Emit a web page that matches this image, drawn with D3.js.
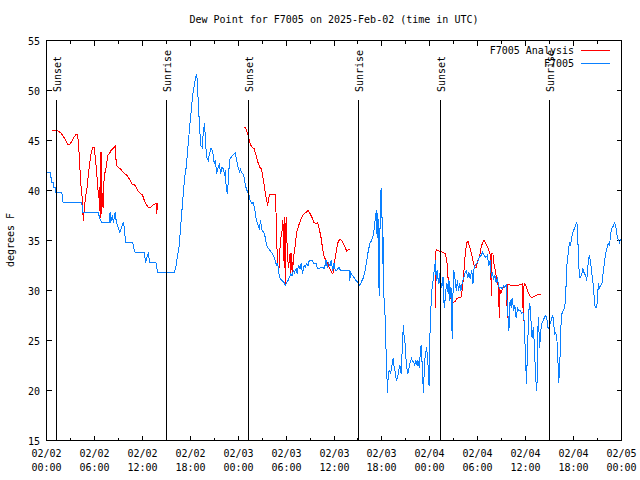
<!DOCTYPE html>
<html>
<head>
<meta charset="utf-8">
<script src="https://cdn.jsdelivr.net/npm/d3@7"></script>
<style>
  html, body { margin: 0; padding: 0; background: #fff; }
  svg { display: block; }
  text { font-family: "DejaVu Sans Mono", "Liberation Mono", monospace; font-size: 10px; fill: #000; }
</style>
</head>
<body>
<svg id="chart" width="640" height="480"></svg>
<script>
// ---- data (hours after 2025-02-02 00:00 UTC, dew point in °F) ----
const titleText = "Dew Point for F7005 on 2025-Feb-02 (time in UTC)";
const yLabel = "degrees F";
const yTicks = [15, 20, 25, 30, 35, 40, 45, 50, 55];
const seriesNames = ["F7005 Analysis", "F7005"];
const seriesColors = ["#ff0000", "#0a80ff"];

const sunLabels = ["Sunset", "Sunrise", "Sunset", "Sunrise", "Sunset", "Sunrise"];
const sunHours  = [1.3, 15.05, 25.3, 39.05, 49.3, 62.95];

// F7005 observations [hour, value]
const obsSeries = [
 [0,41.8],[0.5,41.8],[0.5,41.3],[0.67,41.3],[0.67,40.8],[0.92,40.8],[0.92,40.3],[1.08,40.3],[1.08,39.8],
 [1.92,39.8],[2.0,39.3],[2.08,38.8],[4.42,38.8],[4.54,37.8],[6.54,37.8],[6.6,37.3],[6.9,36.8],[7.9,36.8],
 [7.96,37.8],[8.04,36.8],[8.25,37.5],[8.38,36.8],[8.6,37.8],[8.75,36.8],[8.96,36.3],[9.2,35.8],[9.4,36.3],
 [9.6,36.8],[9.75,36.3],[9.9,34.8],[10.8,34.8],[10.9,34.3],[11.1,33.8],[12.25,33.8],[12.4,32.8],[12.75,33.8],
 [12.9,32.8],[13.7,32.8],[13.9,31.8],[16.0,31.8],[16.2,32.4],[16.4,33.4],[16.6,34.4],[16.8,36.4],[17.0,38.4],
 [17.2,40.4],[17.4,42.0],[17.5,42.3],[17.71,44.3],[17.92,46.3],[18.12,48.0],[18.33,49.7],[18.54,50.7],
 [18.75,51.6],[18.9,51.0],[19.0,48.7],[19.15,46.7],[19.3,44.5],[19.5,44.3],[19.65,46.0],[19.8,46.7],
 [19.9,45.0],[20.05,43.3],[20.25,43.0],[20.4,43.7],[20.6,44.2],[20.8,44.0],[21.0,42.7],[21.15,43.0],
 [21.3,41.7],[21.5,42.3],[21.65,42.7],[21.8,41.7],[21.96,42.3],[22.15,42.2],[22.3,41.5],[22.4,42.0],
 [22.5,40.3],[22.65,39.7],[22.8,41.3],[22.9,43.0],[23.1,43.3],[23.3,43.5],[23.5,43.7],[23.65,43.8],
 [23.75,43.3],[23.9,42.7],[24.0,42.3],[24.2,41.8],[24.3,42.2],[24.4,41.8],[24.6,41.7],[24.75,41.3],
 [24.9,40.5],[25.1,40.0],[25.3,39.7],[25.5,39.0],[25.7,38.7],[25.9,38.8],[26.1,38.0],[26.25,37.2],
 [26.4,36.7],[26.65,36.2],[26.8,37.0],[27.0,36.0],[27.2,35.8],[27.4,35.3],[27.5,34.8],[27.65,34.3],
 [27.8,34.2],[28.0,34.0],[28.15,33.8],[28.3,33.7],[28.5,33.3],[28.65,33.0],[28.8,32.5],[28.95,32.7],
 [29.1,31.7],[29.25,31.2],[29.5,31.0],[29.75,30.8],[29.9,30.5],[30.05,30.8],[30.25,31.0],[30.4,31.3],
 [30.6,31.7],[30.75,31.5],[30.9,32.0],[31.05,31.8],[31.25,32.2],[31.4,31.7],[31.55,32.5],[31.75,32.2],
 [31.9,32.7],[32.05,31.7],[32.25,32.5],[32.4,32.3],[32.55,32.7],[32.75,32.5],[32.9,33.0],[33.3,33.0],
 [33.45,32.7],[33.75,32.7],[33.9,32.3],[34.0,32.2],[34.6,32.3],[34.8,32.2],[35.0,33.0],[35.15,32.3],
 [35.3,32.8],[35.5,32.5],[35.65,33.0],[35.85,32.0],[36.0,32.7],[36.15,32.0],[36.3,32.0],[36.5,32.2],
 [36.65,32.3],[36.8,32.0],[37.9,32.0],[37.95,31.0],[38.1,31.8],[38.3,31.5],[38.5,31.3],[38.75,31.0],
 [39.0,30.8],[39.25,30.5],[39.5,31.0],[39.7,31.3],[39.9,32.0],[40.1,33.0],[40.3,34.0],[40.5,34.7],
 [40.7,35.0],[40.9,35.5],[41.0,36.0],[41.15,37.0],[41.3,38.0],[41.4,35.3],[41.5,37.7],[41.65,29.5],
 [41.75,35.3],[41.8,38.7],[41.9,40.2],[42.0,38.0],[42.1,32.7],[42.15,35.3],[42.25,29.3],[42.35,28.7],
 [42.45,25.7],[42.6,22.0],[42.7,19.8],[42.8,21.7],[42.9,22.0],[43.1,21.7],[43.2,22.3],[43.3,22.7],
 [43.4,23.2],[43.5,22.5],[43.7,21.7],[43.8,21.0],[43.97,21.3],[44.1,22.0],[44.25,22.5],[44.4,21.7],
 [44.5,23.3],[44.6,25.3],[44.7,26.5],[44.75,25.7],[44.9,24.7],[45.0,23.3],[45.1,22.3],[45.25,21.7],
 [45.4,22.3],[45.5,22.7],[45.7,23.2],[45.8,23.0],[46.0,22.8],[46.1,22.5],[46.25,23.0],[46.4,22.5],
 [46.5,23.0],[46.7,22.3],[46.8,23.8],[46.9,24.5],[47.0,23.3],[47.1,21.3],[47.2,19.8],[47.3,22.0],
 [47.4,23.3],[47.5,23.8],[47.6,24.3],[47.7,23.3],[47.8,22.3],[47.85,21.3],[47.9,20.5],[48.0,25.3],
 [48.1,27.3],[48.2,29.7],[48.3,30.3],[48.4,31.0],[48.5,31.7],[48.6,32.3],[48.7,33.0],[48.8,31.0],
 [48.9,32.0],[49.0,31.3],[49.15,30.7],[49.3,32.0],[49.4,30.7],[49.5,30.3],[49.65,31.3],[49.8,28.3],
 [49.9,29.0],[50.0,30.0],[50.15,30.7],[50.3,29.7],[50.4,31.0],[50.5,29.0],[50.65,30.3],[50.8,25.2],
 [50.9,29.7],[51.0,32.0],[51.1,31.3],[51.2,31.0],[51.3,30.0],[51.45,31.0],[51.6,30.0],[51.75,30.7],
 [51.9,30.0],[52.05,30.7],[52.25,31.3],[52.4,31.7],[52.55,32.0],[52.75,31.3],[52.9,31.8],[53.05,31.2],
 [53.25,32.0],[53.4,30.7],[53.55,32.3],[53.75,32.6],[53.95,32.8],[54.2,33.3],[54.4,33.5],[54.6,33.8],
 [54.8,33.5],[55.0,33.3],[55.2,33.5],[55.4,32.5],[55.55,33.0],[55.7,31.3],[55.8,31.8],[56.0,31.2],
 [56.15,31.5],[56.3,30.8],[56.45,31.3],[56.6,30.5],[56.75,30.2],[56.9,30.3],[57.05,30.2],[57.25,30.5],
 [57.4,30.3],[57.55,30.5],[57.75,28.0],[57.9,26.0],[58.05,29.0],[58.2,28.3],[58.3,29.2],[58.5,28.0],
 [58.65,28.5],[58.8,27.3],[59.0,28.2],[59.15,28.0],[59.3,28.0],[59.5,27.7],[59.65,27.8],[59.8,27.0],
 [59.9,25.0],[60.0,23.0],[60.1,20.7],[60.2,23.3],[60.3,25.7],[60.45,28.7],[60.6,28.3],[60.7,26.3],
 [60.8,25.3],[60.97,26.3],[61.1,24.3],[61.2,22.3],[61.3,20.8],[61.4,20.0],[61.45,21.8],[61.5,25.7],
 [61.6,27.3],[61.75,24.3],[61.9,26.0],[62.0,26.7],[62.2,27.0],[62.35,27.3],[62.5,27.5],[62.65,27.2],
 [62.8,26.2],[62.9,26.3],[63.05,26.7],[63.2,27.0],[63.3,27.3],[63.4,27.5],[63.5,26.7],[63.65,25.7],
 [63.75,25.8],[63.9,25.3],[64.0,23.7],[64.15,20.8],[64.3,23.3],[64.4,26.3],[64.55,27.7],[64.7,28.0],
 [64.85,28.2],[65.0,29.0],[65.05,30.3],[65.1,32.0],[65.25,33.2],[65.4,34.3],[65.5,34.8],[65.6,34.5],
 [65.75,35.2],[65.9,35.8],[66.1,36.2],[66.25,36.5],[66.4,36.8],[66.5,36.2],[66.6,33.3],[66.7,31.8],
 [66.8,31.3],[67.0,31.5],[67.15,32.2],[67.3,31.8],[67.5,31.5],[67.65,31.0],[67.8,32.5],[67.95,33.5],
 [68.1,33.0],[68.2,32.3],[68.35,31.3],[68.5,30.3],[68.6,29.0],[68.7,28.3],[68.9,28.3],[69.0,29.2],
 [69.1,30.7],[69.25,30.3],[69.4,30.5],[69.55,30.7],[69.7,31.8],[69.85,32.7],[70.0,33.7],[70.2,34.3],
 [70.35,34.7],[70.5,34.5],[70.65,35.7],[70.8,36.2],[71.0,36.5],[71.15,36.8],[71.3,36.3],[71.4,35.7],
 [71.55,35.2],[71.75,34.8],[71.9,35.1],[72.0,35.1]
];

// F7005 Analysis, three separate runs [hour, value]
const analysisRun1 = [
 [0.67,46.0],[1.29,46.0],[1.75,45.8],[2.04,45.5],[2.33,45.1],[2.67,44.6],[2.9,44.6],[3.17,44.9],[3.42,45.3],
 [3.67,45.6],[3.9,45.6],[4.04,44.3],[4.2,42.0],[4.33,40.3],[4.5,39.0],[4.6,37.0],[4.75,38.3],[4.88,39.3],
 [5.08,40.3],[5.25,41.7],[5.4,42.7],[5.6,43.8],[5.8,44.3],[6.0,44.3],[6.1,43.3],[6.3,41.7],[6.4,40.3],
 [6.54,39.7],[6.67,38.0],[6.75,43.8],[6.79,37.3],[6.88,43.8],[6.92,37.7],[7.0,39.7],[7.08,38.3],[7.17,40.7],
 [7.3,41.7],[7.46,42.3],[7.67,43.5],[7.88,43.7],[8.08,44.0],[8.3,44.2],[8.5,44.3],[8.6,44.5],[8.75,42.5],
 [9.0,42.3],[9.25,42.2],[9.5,41.9],[9.75,41.7],[10.0,41.6],[10.25,41.3],[10.5,41.0],[10.75,40.6],
 [11.0,40.6],[11.25,40.3],[11.5,39.9],[11.75,39.7],[12.0,39.6],[12.25,39.0],[12.5,38.6],[12.75,38.3],
 [13.0,38.3],[13.25,38.5],[13.5,38.6],[13.75,38.7],[13.8,37.7],[13.9,38.7],[14.0,38.7]
];
const analysisRun2 = [
 [24.7,46.3],[24.9,46.3],[25.1,45.9],[25.25,45.5],[25.4,45.0],[25.6,44.5],[25.8,44.3],[26.0,44.2],
 [26.25,43.5],[26.4,43.0],[26.7,42.3],[26.9,42.2],[27.1,41.3],[27.3,40.3],[27.5,39.3],[27.7,38.5],
 [27.9,39.6],[28.7,39.6],[28.8,35.0],[28.9,33.7],[29.0,32.3],[29.1,32.0],[29.2,33.7],[29.3,35.0],
 [29.5,36.0],[29.6,37.0],[29.7,33.0],[29.75,37.3],[29.8,35.7],[29.9,30.5],[30.0,37.3],[30.1,35.0],
 [30.2,33.3],[30.3,32.3],[30.5,33.7],[30.6,31.7],[30.7,33.7],[30.8,31.7],[30.9,33.0],[31.0,33.7],
 [31.2,34.8],[31.3,35.8],[31.5,36.3],[31.7,36.8],[31.9,37.2],[32.1,37.5],[32.3,37.7],[32.5,37.8],
 [32.75,38.0],[33.0,37.7],[33.25,37.3],[33.5,36.8],[33.75,36.7],[33.96,36.8],[34.2,36.0],[34.4,35.2],
 [34.6,34.0],[34.8,33.3],[35.0,33.0],[35.2,32.7],[35.4,32.3],[35.6,32.0],[35.8,31.7],[35.95,31.8],
 [36.1,33.0],[36.3,34.0],[36.5,34.8],[36.7,35.1],[36.96,35.0],[37.2,34.6],[37.4,34.3],[37.6,33.9],
 [37.7,34.0],[37.8,34.1],[38.0,34.1]
];
const analysisRun3 = [
 [48.7,28.3],[48.7,33.7],[48.8,34.1],[49.25,33.9],[49.7,33.8],[49.9,33.7],[50.1,33.2],[50.25,32.0],
 [50.3,30.7],[50.5,29.7],[50.7,29.0],[50.9,28.8],[51.2,28.9],[51.4,29.2],[51.7,29.3],[51.9,29.3],
 [52.1,30.3],[52.25,31.7],[52.4,33.3],[52.6,34.8],[52.8,34.9],[53.0,34.3],[53.2,33.7],[53.4,33.0],
 [53.6,32.3],[53.8,32.3],[54.0,33.0],[54.2,33.3],[54.4,34.2],[54.6,34.8],[54.8,35.0],[55.0,34.7],
 [55.2,34.4],[55.4,34.0],[55.6,33.5],[55.7,29.5],[55.75,33.7],[55.9,33.7],[56.0,32.8],[56.2,32.0],
 [56.3,31.5],[56.5,30.8],[56.6,30.2],[56.7,27.3],[56.75,30.2],[56.9,29.7],[57.1,30.2],[57.4,30.4],
 [57.6,30.5],[57.7,27.3],[57.75,30.6],[58.3,30.5],[58.95,30.5],[59.4,30.6],[59.6,30.7],[59.7,27.0],
 [59.8,30.7],[59.9,30.7],[60.1,30.3],[60.3,29.8],[60.5,29.5],[60.75,29.3],[61.0,29.4],[61.3,29.5],
 [61.6,29.6],[61.9,29.6]
];

// ---- drawing ----
const svg = d3.select("#chart");
const t0 = Date.UTC(2025, 1, 2, 0, 0);
const toDate = h => new Date(t0 + h * 3600 * 1000);

const L = 46.5, R = 621.5, T = 40.5, B = 440.5;
const x = d3.scaleUtc().domain([toDate(0), toDate(72)]).range([L, R]);
const y = d3.scaleLinear().domain([15, 55]).range([B, T]);

// title
svg.append("text").attr("x", (L + R) / 2).attr("y", 23).attr("text-anchor", "middle").text(titleText);

// y label
svg.append("text").attr("transform", "translate(14,240) rotate(-90)").attr("text-anchor", "middle").text(yLabel);

const g = svg.append("g").attr("shape-rendering", "crispEdges");

// y ticks (left + mirrored right)
yTicks.forEach(v => {
  g.append("line").attr("x1", L).attr("x2", L + 5).attr("y1", y(v)).attr("y2", y(v)).attr("stroke", "#000");
  g.append("line").attr("x1", R).attr("x2", R - 5).attr("y1", y(v)).attr("y2", y(v)).attr("stroke", "#000");
  svg.append("text").attr("x", 40).attr("y", y(v) + 4).attr("text-anchor", "end").text(v);
});

// x ticks every 3 hours, labels every 6
const xTickDates = d3.utcHour.every(3).range(toDate(0), toDate(72.01));
const fmtDay = d3.utcFormat("%m/%d"), fmtHour = d3.utcFormat("%H:%M");
xTickDates.forEach(d => {
  const major = d.getUTCHours() % 6 === 0;
  const len = major ? 5 : 3;
  const xx = Math.round(x(d) - 0.5) + 0.5;
  g.append("line").attr("x1", xx).attr("x2", xx).attr("y1", B).attr("y2", B - len).attr("stroke", "#000");
  g.append("line").attr("x1", xx).attr("x2", xx).attr("y1", T).attr("y2", T + len).attr("stroke", "#000");
  if (major) {
    const tx = svg.append("text").attr("x", xx).attr("text-anchor", "middle");
    tx.append("tspan").attr("x", xx).attr("y", 457).text(fmtDay(d));
    tx.append("tspan").attr("x", xx).attr("y", 471).text(fmtHour(d));
  }
});

// data lines
const line = d3.line().x(d => x(toDate(d[0]))).y(d => y(d[1]));
[analysisRun1, analysisRun2, analysisRun3].forEach(run => {
  g.append("path").datum(run).attr("d", line).attr("fill", "none").attr("stroke", seriesColors[0]).attr("stroke-width", 1);
});
g.append("path").datum(obsSeries).attr("d", line).attr("fill", "none").attr("stroke", seriesColors[1]).attr("stroke-width", 1);

// sunrise / sunset markers
sunHours.forEach((h, i) => {
  const xx = Math.round(x(toDate(h)) - 0.5) + 0.5;
  g.append("line").attr("x1", xx).attr("x2", xx).attr("y1", 100).attr("y2", B).attr("stroke", "#000");
  svg.append("text").attr("transform", `translate(${xx + 4},92) rotate(-90)`).attr("text-anchor", "start").text(sunLabels[i]);
});

// legend
seriesNames.forEach((name, i) => {
  const ly = 50 + i * 13;
  svg.append("text").attr("x", 574).attr("y", ly + 4).attr("text-anchor", "end").text(name);
  g.append("line").attr("x1", 581).attr("x2", 610).attr("y1", ly + 0.5).attr("y2", ly + 0.5).attr("stroke", seriesColors[i]);
});

// border
g.append("rect").attr("x", L).attr("y", T).attr("width", R - L).attr("height", B - T).attr("fill", "none").attr("stroke", "#000");
</script>
</body>
</html>
